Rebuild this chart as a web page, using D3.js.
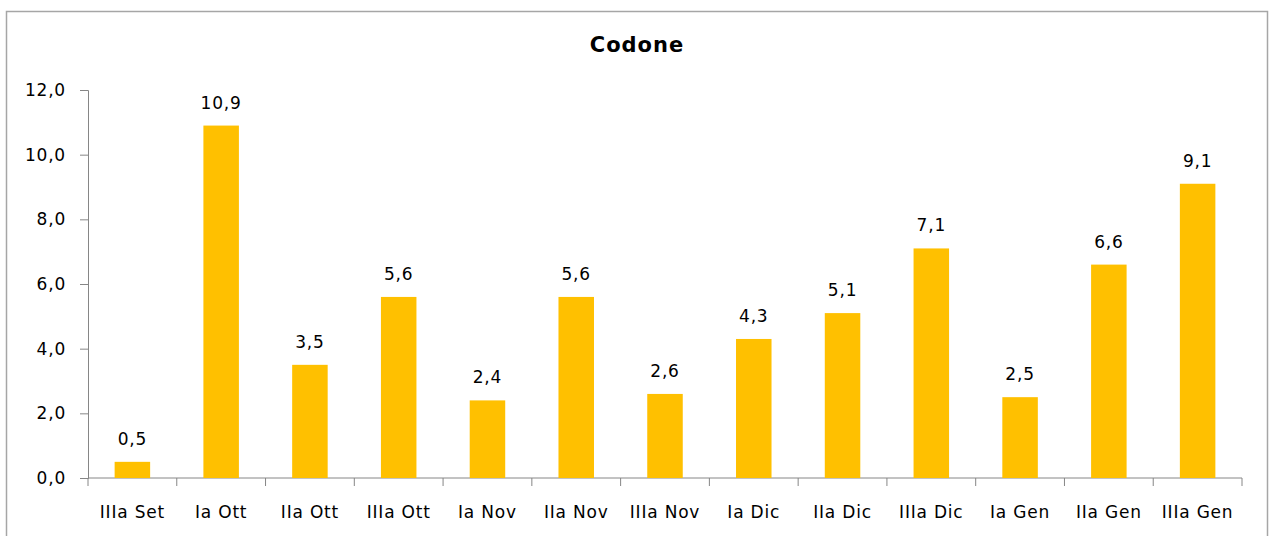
<!DOCTYPE html>
<html lang="it">
<head>
  <meta charset="UTF-8">
  <title>Codone</title>
  <style>
    body {
      margin: 0;
      background: #fff;
      font-family: "DejaVu Sans", Verdana, sans-serif;
    }
    .axis path, .axis line {
      stroke: #868686;
    }
    .axis text {
      fill: #000;
      font-size: 17px;
      letter-spacing: 0.8px;
      font-family: "DejaVu Sans", Verdana, sans-serif;
    }
  </style>
</head>
<body>
<script src="https://d3js.org/d3.v7.min.js"></script>
<script>
  // Data
  const categories = ['IIIa Set', 'Ia Ott', 'IIa Ott', 'IIIa Ott', 'Ia Nov', 'IIa Nov', 'IIIa Nov',
    'Ia Dic', 'IIa Dic', 'IIIa Dic', 'Ia Gen', 'IIa Gen', 'IIIa Gen'];
  const values = [0.5, 10.9, 3.5, 5.6, 2.4, 5.6, 2.6, 4.3, 5.1, 7.1, 2.5, 6.6, 9.1];
  const yTicks = [0, 2, 4, 6, 8, 10, 12];

  const width = 1269;
  const height = 536;
  const margin = {top: 90, right: 27, bottom: 58, left: 88};

  const fmt = d => d3.format('.1f')(d).replace('.', ',');

  const svg = d3.select('body')
    .append('svg')
    .attr('width', width)
    .attr('height', height);

  // outer frame
  svg.append('rect')
    .attr('x', 6.5)
    .attr('y', 11.5)
    .attr('width', 1261)
    .attr('height', 560)
    .attr('fill', 'none')
    .attr('stroke', '#a6a6a6')
    .attr('stroke-width', 1.5);

  svg.append('text')
    .attr('x', 637)
    .attr('y', 52)
    .attr('text-anchor', 'middle')
    .style('font-size', '21px')
    .style('letter-spacing', '1px')
    .style('font-weight', 'bold')
    .text('Codone');

  const xScale = d3.scaleBand()
    .domain(categories)
    .range([margin.left, width - margin.right])
    .paddingInner(0.6)
    .paddingOuter(0.3);

  const yScale = d3.scaleLinear()
    .domain([0, 12])
    .range([height - margin.bottom, margin.top]);

  // y axis
  svg.append('g')
    .attr('class', 'axis')
    .attr('transform', 'translate(' + margin.left + ',0)')
    .call(d3.axisLeft(yScale).tickValues(yTicks).tickFormat(fmt).tickSizeOuter(0).tickSize(8).tickPadding(14));

  // x axis with ticks between categories
  const xAxisG = svg.append('g')
    .attr('class', 'axis')
    .attr('transform', 'translate(0,' + (height - margin.bottom) + ')');

  xAxisG.append('line')
    .attr('x1', margin.left)
    .attr('x2', width - margin.right)
    .attr('stroke', '#868686');

  const sepX = i => margin.left + i * (width - margin.right - margin.left) / categories.length;
  xAxisG.selectAll('.sep')
    .data(d3.range(categories.length + 1))
    .enter()
    .append('line')
    .attr('class', 'sep')
    .attr('x1', sepX)
    .attr('x2', sepX)
    .attr('y1', 0)
    .attr('y2', 8)
    .attr('stroke', '#868686');

  xAxisG.selectAll('.lbl')
    .data(categories)
    .enter()
    .append('text')
    .attr('class', 'lbl')
    .attr('x', d => xScale(d) + xScale.bandwidth() / 2)
    .attr('y', 40)
    .attr('text-anchor', 'middle')
    .text(d => d);

  // bars
  svg.selectAll('rect.bar')
    .data(values)
    .enter()
    .append('rect')
    .attr('class', 'bar')
    .attr('x', (d, i) => xScale(categories[i]))
    .attr('y', d => yScale(d))
    .attr('width', xScale.bandwidth())
    .attr('height', d => yScale(0) - yScale(d))
    .attr('fill', '#ffc000');

  // value labels
  svg.selectAll('text.val')
    .data(values)
    .enter()
    .append('text')
    .attr('class', 'val')
    .attr('x', (d, i) => xScale(categories[i]) + xScale.bandwidth() / 2)
    .attr('y', d => yScale(d) - 17)
    .attr('text-anchor', 'middle')
    .style('font-size', '17px')
    .style('letter-spacing', '0.8px')
    .text(fmt);
</script>
</body>
</html>
